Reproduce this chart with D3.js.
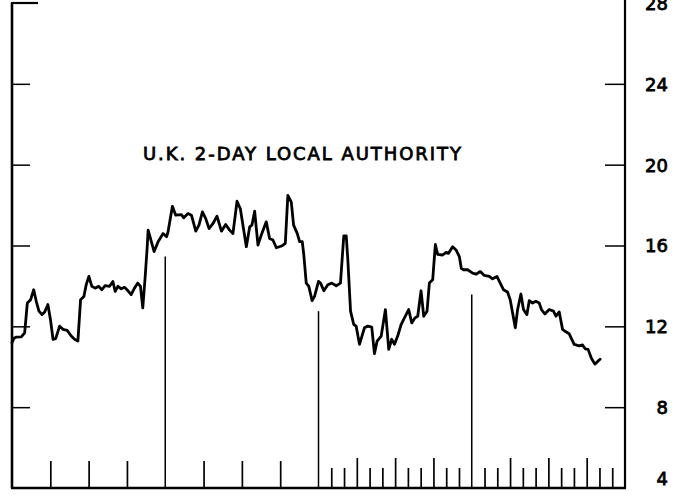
<!DOCTYPE html>
<html>
<head>
<meta charset="utf-8">
<title>U.K. 2-Day Local Authority</title>
<script src="https://d3js.org/d3.v7.min.js"></script>
<style>
  body { margin: 0; background: #fff; }
  svg { display: block; }
  .tick text { font-family: "DejaVu Sans", sans-serif; font-size: 18px; fill: #000; stroke: #000; stroke-width: 0.8px; }
</style>
</head>
<body>
<div id="chart"></div>
<script>
const width = 681, height = 499;

// months since start of the chart (4 years = 48 months)
const month = [0, 0.16, 0.34, 0.73, 0.99, 1.20, 1.46, 1.70, 1.90, 2.11, 2.35, 2.56, 2.81, 3.03, 3.21, 3.42, 3.73, 3.99, 4.32, 4.64,
  4.90, 5.16, 5.37, 5.63, 5.81, 6.02, 6.25, 6.51, 6.78, 7.04, 7.29, 7.64, 7.90, 8.08, 8.29, 8.55, 8.81, 9.01, 9.33, 9.59,
  9.85, 10.06, 10.24, 10.42, 10.58, 10.66, 11.13, 11.44, 11.83, 12.10, 12.22, 12.56, 12.82, 13.27, 13.45, 13.78, 14.05, 14.39, 14.64, 14.91,
  15.17, 15.43, 15.74, 16.05, 16.40, 16.73, 17.04, 17.30, 17.62, 17.88, 18.35, 18.61, 18.79, 19.00, 19.26, 19.52, 19.91, 20.17, 20.43, 20.70,
  21.17, 21.40, 21.60, 21.87, 22.05, 22.34, 22.52, 22.73, 22.85, 23.04, 23.24, 23.50, 23.69, 24.00, 24.16, 24.42, 24.73, 25.04, 25.39, 25.72,
  25.98, 26.17, 26.29, 26.51, 26.76, 26.95, 27.21, 27.60, 27.86, 28.17, 28.38, 28.59, 28.91, 29.24, 29.50, 29.73, 29.95, 30.20, 30.47, 30.73,
  31.06, 31.30, 31.56, 31.77, 32.03, 32.24, 32.50, 32.68, 32.94, 33.15, 33.33, 33.72, 33.99, 34.17, 34.50, 34.77, 35.03, 35.18, 35.36, 35.68,
  36.07, 36.33, 36.67, 36.98, 37.37, 37.63, 37.97, 38.23, 38.49, 38.80, 39.01, 39.20, 39.41, 39.59, 39.85, 40.05, 40.32, 40.50, 40.76, 41.02,
  41.28, 41.46, 41.73, 42.06, 42.40, 42.59, 42.85, 43.11, 43.37, 43.63, 44.02, 44.41, 44.67, 44.88, 45.11, 45.37, 45.64, 45.90, 46.05];

// interest rate, per cent
const rate = [11.19, 11.41, 11.47, 11.48, 11.68, 13.15, 13.32, 13.81, 13.24, 12.75, 12.58, 12.71, 13.08, 12.26, 11.36, 11.39, 12.01, 11.85, 11.80, 11.52,
  11.36, 11.27, 13.32, 13.48, 14.06, 14.47, 13.98, 13.89, 13.98, 13.81, 14.01, 13.98, 14.22, 13.73, 13.98, 13.86, 13.93, 13.81, 13.57, 13.89,
  14.14, 13.98, 12.91, 14.38, 15.86, 16.76, 15.70, 16.19, 16.59, 16.43, 16.68, 17.94, 17.50, 17.53, 17.37, 17.58, 17.50, 16.71, 17.01, 17.66,
  17.33, 16.84, 17.09, 17.45, 16.71, 17.04, 16.76, 16.59, 18.19, 17.82, 15.94, 16.92, 17.01, 17.70, 16.02, 16.52, 17.17, 16.35, 16.27, 15.89,
  15.99, 16.10, 18.48, 18.15, 17.01, 16.59, 16.19, 16.19, 15.53, 14.14, 13.98, 13.27, 13.48, 14.22, 14.14, 13.76, 14.06, 14.14, 14.01, 14.14,
  16.48, 16.48, 15.37, 12.75, 12.09, 12.01, 11.11, 11.93, 12.01, 11.96, 10.65, 11.27, 11.52, 12.83, 10.86, 11.36, 11.11, 11.52, 12.09, 12.42,
  12.83, 12.17, 12.42, 12.50, 13.76, 12.50, 12.75, 14.14, 14.30, 16.05, 15.56, 15.53, 15.66, 15.61, 15.94, 15.78, 15.45, 14.87, 14.80, 14.80,
  14.63, 14.58, 14.71, 14.52, 14.47, 14.35, 14.47, 14.14, 13.81, 13.70, 13.32, 12.66, 11.93, 12.83, 13.60, 12.83, 12.58, 13.27, 13.15, 13.24,
  13.15, 12.83, 12.61, 12.83, 12.75, 12.50, 12.71, 11.85, 11.73, 11.63, 11.11, 11.03, 11.08, 10.89, 10.86, 10.42, 10.13, 10.29, 10.37];

// year boundaries and how high their drop lines reach
const yearMonth = [12, 24, 36];
const yearLineTop = [15.45, 12.75, 13.58];

const yTicks = [4, 8, 12, 16, 20, 24, 28];
const title = "U.K. 2-DAY LOCAL AUTHORITY";

const x = d3.scaleLinear().domain([0, 48]).range([12, 625]);
const y = d3.scaleLinear().domain([4, 28]).range([488, 3]);

const svg = d3.select("#chart").append("svg").attr("width", width).attr("height", height);

// bottom ticks: quarters in first two years, months in last two
const q1 = d3.range(3, 24, 3).filter(d => d % 12 != 0);
const m2 = d3.range(25, 48).filter(d => d % 3 != 0);
const q2 = d3.range(27, 48, 3).filter(d => d % 12 != 0);

function bottom(vals, size) {
  svg.append("g")
    .attr("transform", "translate(0,488)")
    .call(d3.axisBottom(x).tickValues(vals).tickSize(-size).tickFormat(""))
    .call(g => g.select(".domain").remove())
    .selectAll("line").attr("stroke", "#000").attr("stroke-width", 1.7);
}
bottom(q1, 27);
bottom(m2, 20);
bottom(q2, 30);

// year drop lines
svg.append("g").selectAll("line")
  .data(yearMonth)
  .join("line")
  .attr("x1", d => x(d)).attr("x2", d => x(d))
  .attr("y1", (d, i) => y(yearLineTop[i])).attr("y2", y(4))
  .attr("stroke", "#000").attr("stroke-width", 1.5);

// left axis: ticks only
svg.append("g")
  .attr("transform", "translate(12,0)")
  .call(d3.axisLeft(y).tickValues(yTicks.slice(1, -1)).tickSize(-18).tickFormat(""))
  .call(g => g.select(".domain").remove())
  .selectAll("line").attr("stroke", "#000").attr("stroke-width", 1.5);

// right axis with labels
const ra = svg.append("g")
  .attr("transform", "translate(625,0)")
  .call(d3.axisRight(y).tickValues(yTicks).tickSize(-20).tickPadding(0))
  .call(g => g.select(".domain").remove());
ra.selectAll(".tick line").attr("stroke", "#000").attr("stroke-width", 1.5)
  .filter(d => d == 28 || d == 4).remove();
ra.selectAll(".tick text")
  .attr("x", 43).attr("text-anchor", "end").attr("dy", d => d == 4 ? "-0.22em" : "0.36em");

// frame
const frame = svg.append("g").attr("stroke", "#000").attr("fill", "none");
frame.append("line").attr("x1", 12).attr("x2", 12).attr("y1", y(28)).attr("y2", y(4)).attr("stroke-width", 2.6);
frame.append("line").attr("x1", 11).attr("x2", 38).attr("y1", y(28)).attr("y2", y(28)).attr("stroke-width", 2.2);
frame.append("line").attr("x1", 11).attr("x2", 626).attr("y1", y(4)).attr("y2", y(4)).attr("stroke-width", 2.4);
frame.append("line").attr("x1", 625).attr("x2", 625).attr("y1", 0).attr("y2", y(4)).attr("stroke-width", 2.2);

// the series
const line = d3.line().x(d => x(d[0])).y(d => y(d[1]));
svg.append("path")
  .datum(d3.zip(month, rate))
  .attr("d", line)
  .attr("fill", "none")
  .attr("stroke", "#000")
  .attr("stroke-width", 2.8)
  .attr("stroke-linejoin", "round")
  .attr("stroke-linecap", "round");

svg.append("text")
  .attr("x", 143).attr("y", 160)
  .attr("textLength", 318).attr("lengthAdjust", "spacing")
  .style("font-family", "'DejaVu Sans', sans-serif")
  .style("font-size", "18px")
  .style("stroke", "#000").style("stroke-width", "0.8px")
  .text(title);
</script>
</body>
</html>
